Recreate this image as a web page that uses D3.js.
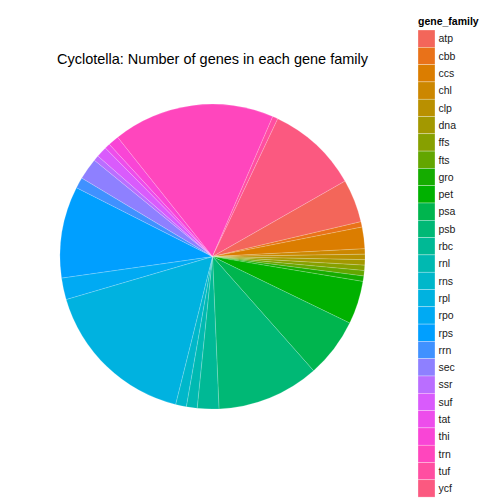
<!DOCTYPE html>
<html>
<head>
<meta charset="utf-8">
<script src="https://cdn.jsdelivr.net/npm/d3@7"></script>
<style>
  html, body { margin: 0; padding: 0; background: #ffffff; }
  svg { display: block; }
  text { font-family: "Liberation Sans", Arial, Helvetica, sans-serif; }
</style>
</head>
<body>
<svg id="chart" width="504" height="504"></svg>
<script>
// ---- data ----
const families = ["atp","cbb","ccs","chl","clp","dna","ffs","fts","gro","pet","psa","psb","rbc",
                  "rnl","rns","rpl","rpo","rps","rrn","sec","ssr","suf","tat","thi","trn","tuf","ycf"];
const geneCounts = [8,1,4,1,1,1,1,1,1,8,11,19,4,2,2,29,4,17,2,4,1,2,1,2,30,1,17];
const chartTitle = "Cyclotella: Number of genes in each gene family";
const legendTitle = "gene_family";

// ---- ggplot-like hue palette (polar LUV) ----
function hclLuv(h, c, l) {
  const hr = h * Math.PI / 180;
  const U = c * Math.cos(hr), V = c * Math.sin(hr);
  const Xn = 95.047, Yn = 100.0, Zn = 108.883;
  const Y = l > 8 ? Yn * Math.pow((l + 16) / 116, 3) : Yn * l / 903.3;
  const den = Xn + 15 * Yn + 3 * Zn;
  const un = 4 * Xn / den, vn = 9 * Yn / den;
  const up = U / (13 * l) + un, vp = V / (13 * l) + vn;
  const X = Y * 9 * up / (4 * vp);
  const Z = Y * (12 - 3 * up - 20 * vp) / (4 * vp);
  const x = X / 100, y = Y / 100, z = Z / 100;
  let r = 3.240479 * x - 1.537150 * y - 0.498535 * z;
  let g = -0.969256 * x + 1.875992 * y + 0.041556 * z;
  let b = 0.055648 * x - 0.204043 * y + 1.057311 * z;
  const gam = v => v <= 0.0031308 ? 12.92 * v : 1.055 * Math.pow(v, 1 / 2.4) - 0.055;
  const cl = v => Math.max(0, Math.min(255, Math.round(gam(v) * 255)));
  return d3.rgb(cl(r), cl(g), cl(b)).formatHex();
}
const n = families.length;
const palette = d3.range(n).map(i => hclLuv(15 + 360 * i / n, 112, 61));
const color = d3.scaleOrdinal().domain(families).range(palette);

// ---- layout ----
const svg = d3.select("#chart");
const cx = 212.5, cy = 256.6, R = 152.5;
const startDeg = 60.3;

const data = families.map((f, i) => ({ family: f, count: geneCounts[i] }));
const pie = d3.pie().value(d => d.count).sort(null)
  .startAngle(startDeg * Math.PI / 180)
  .endAngle(startDeg * Math.PI / 180 + 2 * Math.PI);
const arc = d3.arc().innerRadius(0).outerRadius(R);

svg.append("g")
  .attr("transform", `translate(${cx},${cy})`)
  .selectAll("path")
  .data(pie(data))
  .join("path")
  .attr("d", arc)
  .attr("fill", d => color(d.data.family))
  .attr("stroke", "rgba(255,255,255,0.35)")
  .attr("stroke-width", 0.5);

// ---- title ----
svg.append("text")
  .attr("x", cx)
  .attr("y", 64)
  .attr("text-anchor", "middle")
  .attr("font-size", 14.5)
  .attr("fill", "#000")
  .text(chartTitle);

// ---- legend ----
const lx = 418, ly = 30, kh = 17.3, kw = 17;
const legend = svg.append("g");
legend.append("text")
  .attr("x", lx).attr("y", 25)
  .attr("font-size", 10.5).attr("font-weight", "bold")
  .attr("fill", "#000")
  .text(legendTitle);
const items = legend.selectAll("g.item").data(families).join("g")
  .attr("class", "item")
  .attr("transform", (d, i) => `translate(${lx},${ly + i * kh})`);
items.append("rect")
  .attr("width", kw).attr("height", kh)
  .attr("fill", d => color(d))
  .attr("stroke", "rgba(255,255,255,0.6)")
  .attr("stroke-width", 0.5);
items.append("text")
  .attr("x", kw + 3.5).attr("y", kh / 2 + 3.8)
  .attr("font-size", 10.5)
  .attr("fill", "#1a1a1a")
  .text(d => d);
</script>
</body>
</html>
